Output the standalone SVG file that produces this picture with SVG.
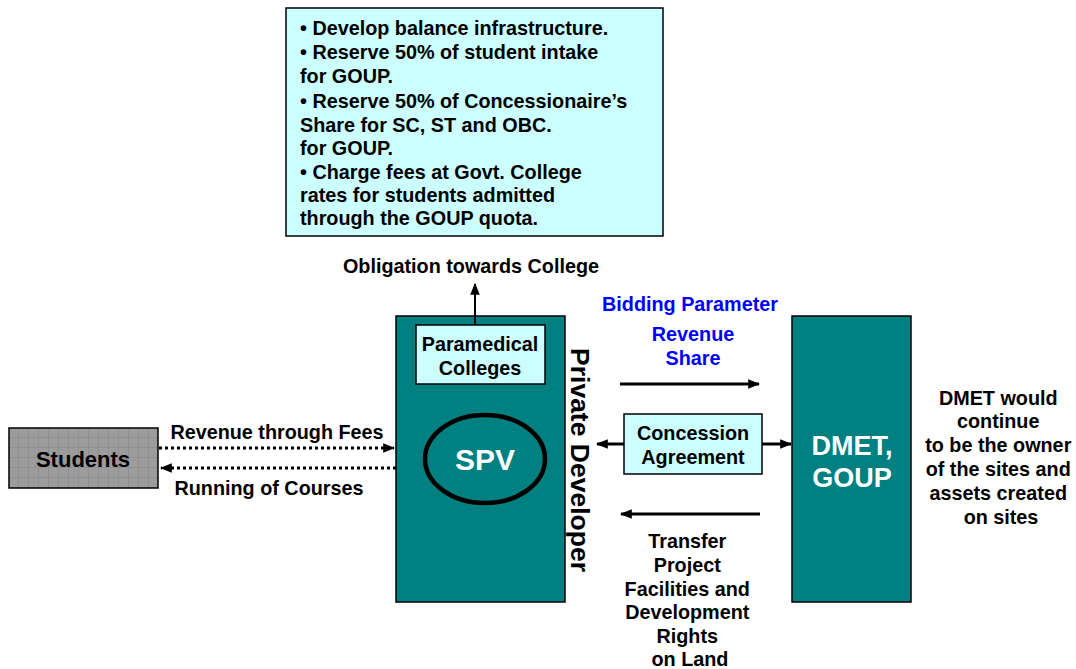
<svg xmlns="http://www.w3.org/2000/svg" width="1076" height="669" viewBox="0 0 1076 669">
<style>
text{font-family:"Liberation Sans",Arial,sans-serif;font-weight:bold;fill:#000}
.c{text-anchor:middle}
.w{fill:#fff}
.b{fill:#0000ff}
.teal{fill:#008080;stroke:#000;stroke-width:1.5}
.lc{fill:#ccffff;stroke:#000;stroke-width:1.5}
.ln{stroke:#000;stroke-width:3;fill:none}
.dot{stroke:#000;stroke-width:3;stroke-dasharray:3 3;fill:none}
</style>
<defs>
<marker id="ah" viewBox="0 0 10 10" refX="9" refY="5" markerWidth="4" markerHeight="4" orient="auto-start-reverse" markerUnits="strokeWidth">
<path d="M0,1 L10,5 L0,9 z" fill="#000"/>
</marker>
<marker id="ah2" viewBox="0 0 10 10" refX="9" refY="5" markerWidth="6" markerHeight="6" orient="auto" markerUnits="strokeWidth">
<path d="M0,1 L10,5 L0,9 z" fill="#000"/>
</marker>
<pattern id="grid" width="10" height="10" patternUnits="userSpaceOnUse" x="9" y="428">
<rect width="10" height="10" fill="#9c9c9c"/>
<path d="M10,0 V10 M0,10 H10" stroke="#848484" stroke-width="1"/>
</pattern>
</defs>

<g id="obligations">
<rect x="286" y="8" width="377" height="228" class="lc"/>
<text font-size="19.8">
<tspan x="300" y="35">• Develop balance infrastructure.</tspan>
<tspan x="300" y="59">• Reserve 50% of student intake</tspan>
<tspan x="300" y="83">for GOUP.</tspan>
<tspan x="300" y="108">• Reserve 50% of Concessionaire’s</tspan>
<tspan x="300" y="132">Share for SC, ST and OBC.</tspan>
<tspan x="300" y="155">for GOUP.</tspan>
<tspan x="300" y="179">• Charge fees at Govt. College</tspan>
<tspan x="300" y="202">rates for students admitted</tspan>
<tspan x="300" y="225">through the GOUP quota.</tspan>
</text>
</g>

<g id="private-developer">
<rect x="396" y="316" width="169" height="286" class="teal"/>
<text font-size="26.5" transform="translate(571,460) rotate(90)" class="c">Private Developer</text>
</g>

<g id="paramedical">
<rect x="416" y="325" width="129" height="59" class="lc"/>
<text x="480" y="351" font-size="19.8" class="c">Paramedical</text>
<text x="480" y="375" font-size="19.8" class="c">Colleges</text>
</g>

<g id="spv">
<ellipse cx="485" cy="459" rx="60" ry="44" fill="#008080" stroke="#000" stroke-width="4.5"/>
<text x="485" y="470" font-size="30" class="c w">SPV</text>
</g>

<g id="students">
<rect x="9" y="428" width="149" height="60" fill="url(#grid)" stroke="#000" stroke-width="1.5"/>
<text x="83" y="467" font-size="22" class="c">Students</text>
</g>

<g id="dmet">
<rect x="792" y="316" width="119" height="286" class="teal"/>
<text x="852" y="455" font-size="27" class="c w">DMET,</text>
<text x="852" y="487" font-size="27" class="c w">GOUP</text>
</g>

<g id="concession">
<rect x="624" y="414" width="138" height="60" class="lc"/>
<text x="693" y="440" font-size="19.8" class="c">Concession</text>
<text x="693" y="464" font-size="19.8" class="c">Agreement</text>
</g>

<g id="connectors">
<line x1="475" y1="325" x2="475" y2="284" stroke="#000" stroke-width="2" marker-end="url(#ah2)"/>
<line x1="159" y1="448" x2="394" y2="448" class="dot" marker-end="url(#ah)"/>
<line x1="396" y1="468" x2="161" y2="468" class="dot" marker-end="url(#ah)"/>
<line x1="620" y1="384" x2="759" y2="384" class="ln" marker-end="url(#ah)"/>
<line x1="624" y1="444" x2="597" y2="444" class="ln" marker-end="url(#ah)"/>
<line x1="762" y1="444" x2="791" y2="444" class="ln" marker-end="url(#ah)"/>
<line x1="760" y1="514" x2="621" y2="514" class="ln" marker-end="url(#ah)"/>
</g>

<g id="labels">
<text x="471" y="273" font-size="19.8" class="c">Obligation towards College</text>
<text x="277" y="439" font-size="19.8" class="c">Revenue through Fees</text>
<text x="269" y="495" font-size="19.8" class="c">Running of Courses</text>
<text x="690" y="311" font-size="19.8" class="c b">Bidding Parameter</text>
<text x="693" y="341" font-size="19.8" class="c b">Revenue</text>
<text x="693" y="365" font-size="19.8" class="c b">Share</text>
<text font-size="19.8" class="c">
<tspan x="690" y="548">Transfer</tspan>
<tspan x="690" y="572">Project</tspan>
<tspan x="690" y="596">Facilities and</tspan>
<tspan x="690" y="619">Development</tspan>
<tspan x="690" y="643">Rights</tspan>
<tspan x="690" y="666">on Land</tspan>
</text>
<text font-size="19.8" class="c">
<tspan x="1001" y="405">DMET would</tspan>
<tspan x="1001" y="428">continue</tspan>
<tspan x="1001" y="452">to be the owner</tspan>
<tspan x="1001" y="476">of the sites and</tspan>
<tspan x="1001" y="500">assets created</tspan>
<tspan x="1001" y="524">on sites</tspan>
</text>
</g>
</svg>
